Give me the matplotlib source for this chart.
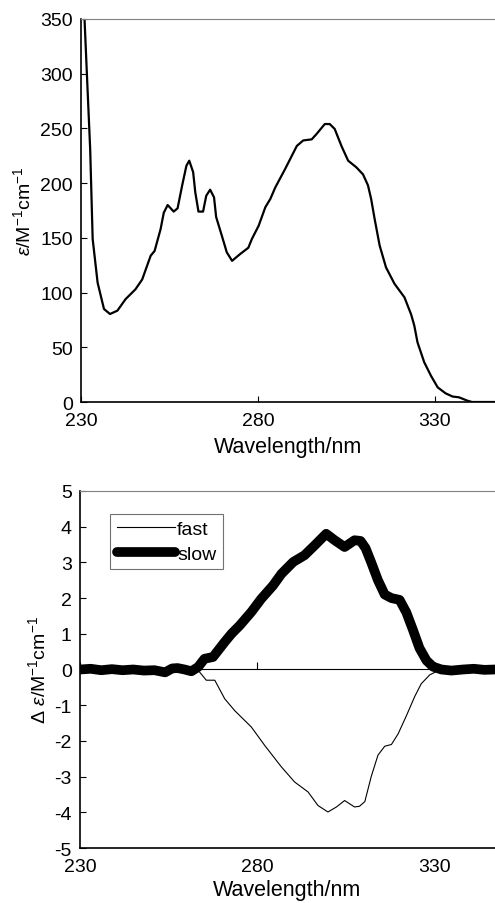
import numpy as np
import matplotlib.pyplot as plt

plt.rcParams['font.family'] = ['Liberation Sans', 'DejaVu Sans']
plt.rcParams['mathtext.fontset'] = 'custom'
plt.rcParams['mathtext.rm'] = 'Liberation Sans'
plt.rcParams['mathtext.it'] = 'Liberation Sans:italic'
plt.rcParams['axes.unicode_minus'] = False

# absorption spectrum (top)
abs_wl = [231.0, 231.8, 232.6, 233.3, 234.7, 236.5, 238.2, 240.3, 242.6, 245.4,
          247.3, 249.7, 250.8, 252.5, 253.4, 254.5, 256.2, 257.3, 258.6, 259.8,
          260.6, 261.7, 262.3, 263.2, 264.5, 265.4, 266.5, 267.6, 268.2, 269.8,
          271.2, 272.7, 274.9, 277.3, 278.3, 280.2, 282.1, 283.5, 284.9, 287.7,
          291.0, 292.8, 295.2, 296.6, 298.9, 300.3, 301.7, 303.6, 305.5, 307.8,
          309.7, 311.1, 312.0, 313.0, 314.4, 316.2, 318.6, 321.4, 323.3, 324.2,
          325.1, 327.0, 328.9, 330.8, 333.0, 335.0, 336.8, 339.2, 340.5, 347.5]
abs_eps = [350, 290, 231, 149, 109, 85, 80.4, 83.5, 94, 103,
           112, 133.7, 138, 158, 173, 180, 174, 177, 198, 216,
           220.5, 210, 191.6, 174, 174, 188.5, 194, 187, 169, 152,
           136.8, 129, 135, 141, 149, 161, 178, 185.5, 196, 213,
           234, 239, 240, 245, 254, 254, 249.5, 234, 220.5, 214.5,
           208, 198, 185.5, 167, 143, 123, 108, 95.7, 80, 69.7,
           54.5, 36.3, 24, 13.4, 8, 5, 4.3, 1.2, 0, 0]

# CD spectra (bottom)
slow_wl = [230, 233, 236, 239, 242, 245, 248, 251, 254, 256, 257.5, 259.5,
           261.4, 263.3, 265.1, 267.5, 270.8, 272.7, 275.0, 278.3, 281.1, 284.4,
           286.8, 290.1, 293.3, 296.2, 299.4, 301.8, 304.6, 307.4, 309.1, 310.5,
           312.1, 314.0, 315.9, 317.8, 320.1, 322.0, 323.9, 325.7, 327.7, 329.5,
           331.9, 334.7, 338, 341, 344, 347]
slow_cd = [0.0, 0.02, -0.02, 0.01, -0.02, 0.0, -0.03, -0.02, -0.08, 0.03, 0.04, 0.0,
           -0.05, 0.07, 0.3, 0.35, 0.77, 1.0, 1.23, 1.61, 1.98, 2.35,
           2.68, 3.01, 3.2, 3.48, 3.8, 3.62, 3.43, 3.62, 3.6, 3.4,
           3.0, 2.5, 2.1, 2.0, 1.95, 1.6, 1.1, 0.6, 0.25, 0.08,
           0.0, -0.03, 0.0, 0.02, -0.01, 0.0]

fast_wl = [230, 262.5, 263.7, 265.6, 268.0, 270.8, 273.6, 278.3, 282.1, 286.8,
           290.5, 294.3, 297.1, 299.9, 302.3, 304.6, 307.4, 308.8, 310.3, 312.1,
           314.0, 315.9, 317.8, 319.7, 322.0, 324.4, 326.2, 328.6, 331.0, 332.8,
           347]
fast_cd = [0, 0, -0.07, -0.3, -0.3, -0.82, -1.15, -1.61, -2.13, -2.73,
           -3.15, -3.43, -3.81, -3.99, -3.85, -3.67, -3.85, -3.83, -3.7, -3.0,
           -2.4, -2.15, -2.1, -1.8, -1.3, -0.75, -0.4, -0.15, -0.03, 0,
           0]

x_ticks = [230, 280, 330]

fig = plt.figure(figsize=(4.95, 9.04), dpi=100)

# top panel
ax1 = fig.add_axes([0.1636, 0.5542, 0.8364, 0.4237])
ax1.plot(abs_wl, abs_eps, color='black', linewidth=1.6)
ax1.set_xlim(230, 347)
ax1.set_ylim(0, 350)
ax1.set_xticks(x_ticks)
ax1.set_yticks(range(0, 351, 50))
ax1.tick_params(direction='in', length=4.5, width=0.8, labelsize=14)
ax1.tick_params(axis='x', pad=7)
ax1.tick_params(axis='y', pad=6)
ax1.spines['right'].set_visible(False)
ax1.spines['top'].set_color('0.5')
ax1.spines['left'].set_linewidth(1.2)
ax1.spines['bottom'].set_linewidth(1.2)
ax1.set_xlabel('Wavelength/nm', fontsize=15.5, labelpad=5)
ax1.set_ylabel(r'$\varepsilon$/M$^{-1}$cm$^{-1}$', fontsize=14, labelpad=4)

# bottom panel
ax2 = fig.add_axes([0.1616, 0.0608, 0.8384, 0.395])
ax2.plot(fast_wl, fast_cd, color='black', linewidth=0.8, label='fast')
ax2.plot(slow_wl, slow_cd, color='black', linewidth=7, label='slow',
         solid_capstyle='round', solid_joinstyle='round')
ax2.set_xlim(230, 347)
ax2.set_ylim(-5, 5)
ax2.set_xticks(x_ticks)
ax2.set_yticks(range(-5, 6))
ax2.tick_params(axis='x', length=0, labelsize=14, pad=7)
ax2.tick_params(axis='y', direction='in', length=4.5, width=0.8, labelsize=14, pad=6)
ax2.spines['right'].set_visible(False)
ax2.spines['top'].set_color('0.5')
ax2.spines['left'].set_linewidth(1.2)
ax2.spines['bottom'].set_linewidth(1.2)
ax2.set_xlabel('Wavelength/nm', fontsize=15.5, labelpad=3)
ax2.set_ylabel(r'$\mathit{\Delta}$ $\varepsilon$/M$^{-1}$cm$^{-1}$', fontsize=14, labelpad=4)

# zero axis with ticks
zero_ax = ax2.secondary_xaxis(0.5)
zero_ax.set_xticks(x_ticks)
zero_ax.set_xticklabels([])
zero_ax.tick_params(direction='out', length=5, width=0.8)
zero_ax.spines['top'].set_linewidth(0.8)
zero_ax.spines['bottom'].set_linewidth(0.8)

leg = ax2.legend(loc='upper left', bbox_to_anchor=(0.072, 0.936), fontsize=14,
                 frameon=True, fancybox=False, edgecolor='0.3', borderpad=0.35,
                 handlelength=3.0, handletextpad=0.1, labelspacing=0.35,
                 borderaxespad=0)
leg.get_frame().set_linewidth(0.8)

fig.savefig('out.png', dpi=100)
